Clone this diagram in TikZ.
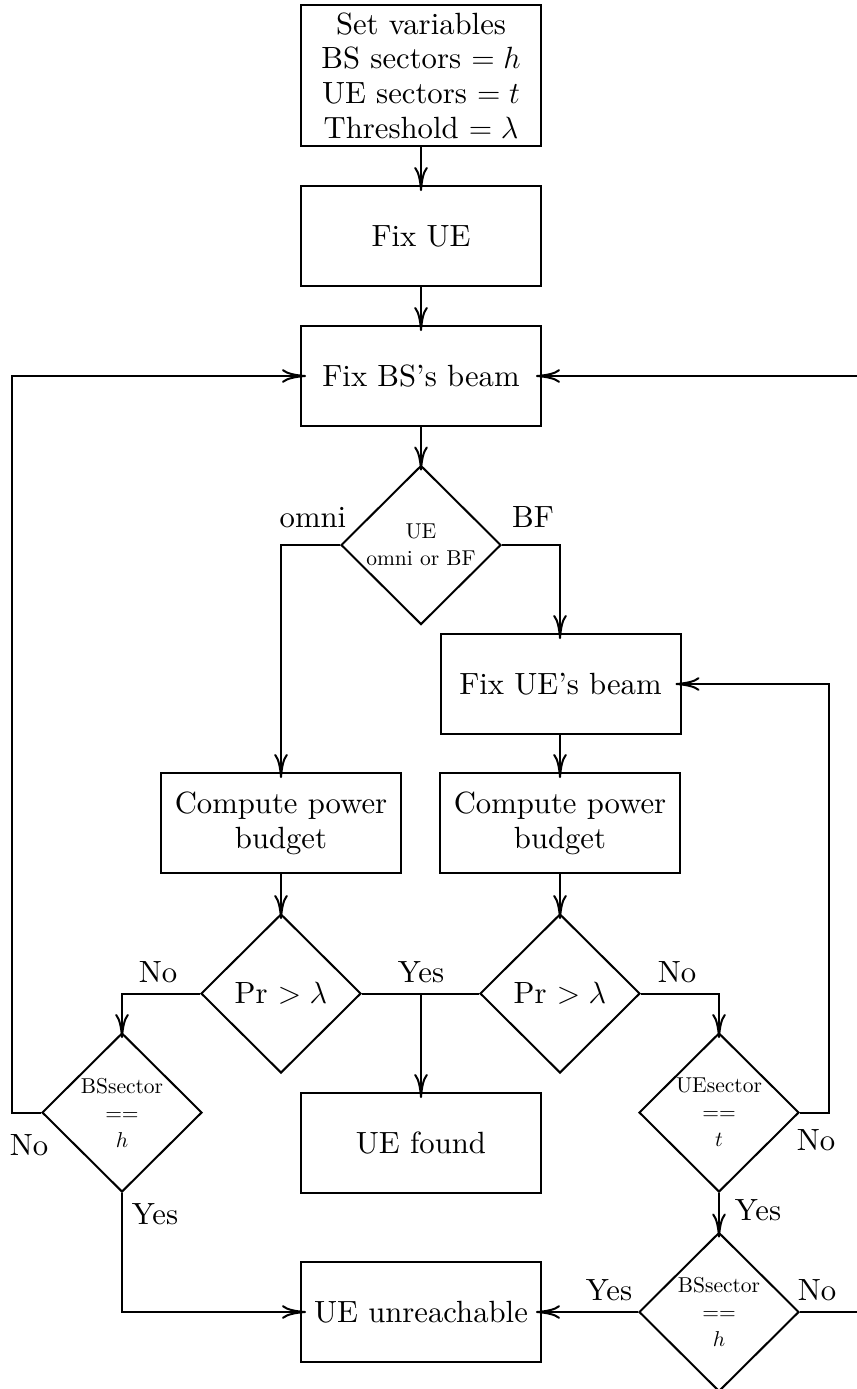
\RequirePackage{fix-cm}
\documentclass[tikz,border=0pt]{standalone}
\usepackage{fontspec}
\setmainfont{lmroman10-regular.otf}[ItalicFont=lmroman10-italic.otf,BoldFont=lmroman10-bold.otf]
\usetikzlibrary{shapes.geometric,arrows.meta}
\tikzset{
  box/.style={draw,rectangle,inner sep=0pt,minimum width=120pt,minimum height=50pt,align=center,font=\mainf},
  dec/.style={draw,diamond,inner sep=0pt,minimum width=80pt,minimum height=79.5pt},
  dtext/.style={align=center,inner sep=0pt,font=\smallf},
  lbl/.style={anchor=base,inner sep=0pt,font=\mainf},
  arr/.style={-{Computer Modern Rightarrow[length=12pt,width=6.8pt]},shorten >=-3pt},
}
\newcommand{\mainf}{\fontsize{15.35}{17.35}\selectfont}
\newcommand{\smallf}{\fontsize{10.75}{13.5}\selectfont}
\begin{document}
\begin{tikzpicture}[x=0.5pt,y=-0.5pt,line width=1pt]
\useasboundingbox (0,0) rectangle (857,1389);
\clip (0,0) rectangle (857,1389);
% boxes
\node[box,minimum height=70.5pt] (set) at (421,75.5) {Set variables\\BS sectors $= h$\\UE sectors $= t$\\Threshold $= \lambda$};
\node[box] (fixue) at (421,236) {Fix UE};
\node[box] (fixbs) at (421,376) {Fix BS's beam};
\node[dec] (dUE) at (421,545) {};
\node[dtext] (dUEt) at (dUE.center) {UE\\omni or BF};
\node[box] (fixueb) at (560.5,684) {Fix UE's beam};
\node[box] (compL) at (281,823) {Compute power\\budget};
\node[box] (compR) at (560,823) {Compute power\\budget};
\node[dec] (prL) at (281,993.5) {};
\node[font=\mainf,inner sep=0pt] (prLt) at (prL.center) {Pr $> \lambda$};
\node[dec] (prR) at (560,993.5) {};
\node[font=\mainf,inner sep=0pt] (prRt) at (prR.center) {Pr $> \lambda$};
\node[dec] (bsL) at (122,1112.5) {};
\node[dtext] (bsLt) at (bsL.center) {BSsector\\==\\$h$};
\node[dec] (ueS) at (719,1112.5) {};
\node[dtext] (ueSt) at (ueS.center) {UEsector\\==\\$t$};
\node[box] (found) at (421,1143) {UE found};
\node[box] (unreach) at (421,1312) {UE unreachable};
\node[dec] (bsR) at (719,1312) {};
\node[dtext] (bsRt) at (bsR.center) {BSsector\\==\\$h$};
% labels
\node[lbl] (lomni) at (313,527) {omni};
\node[lbl] (lbf) at (533,527) {BF};
\node[lbl] (lno1) at (158,982) {No};
\node[lbl] (lyes1) at (421,982) {Yes};
\node[lbl] (lno2) at (677,982) {No};
\node[lbl] (lno3) at (29,1155) {No};
\node[lbl] (lyes2) at (155,1224) {Yes};
\node[lbl] (lno4) at (816,1150) {No};
\node[lbl] (lyes3) at (758,1220) {Yes};
\node[lbl] (lyes4) at (609,1300) {Yes};
\node[lbl] (lno5) at (817,1300) {No};
% helper coordinates
\coordinate (jyes) at (421,993.5);
\coordinate (loopL) at (12,1112.5);
\coordinate (loopR) at (829,1112.5);
\coordinate (farR) at (900,1312);
% connectors
\draw[arr] (set) -- (fixue);
\draw[arr] (fixue) -- (fixbs);
\draw[arr] (fixbs) -- (dUE);
\draw[arr] (dUE.west) -| (compL.north);
\draw[arr] (dUE.east) -| (fixueb.north -| compR.north);
\draw[arr] (fixueb.south -| compR.north) -- (compR.north);
\draw[arr] (compL) -- (prL);
\draw[arr] (compR) -- (prR);
\draw (prL.east) -- (prR.west);
\draw[arr] (jyes) -- (found.north -| jyes);
\draw[arr] (prL.west) -| (bsL.north);
\draw[arr] (prR.east) -| (ueS.north);
\draw[arr] (bsL.west) -- (loopL) |- (fixbs.west);
\draw[arr] (bsL.south) |- (unreach.west);
\draw[arr] (ueS.east) -- (loopR) |- (fixueb.east);
\draw[arr] (ueS.south) -- (bsR.north);
\draw[arr] (bsR.west) -- (unreach.east);
\draw[arr] (bsR.east) -- (farR) |- (fixbs.east);
\end{tikzpicture}
\end{document}
